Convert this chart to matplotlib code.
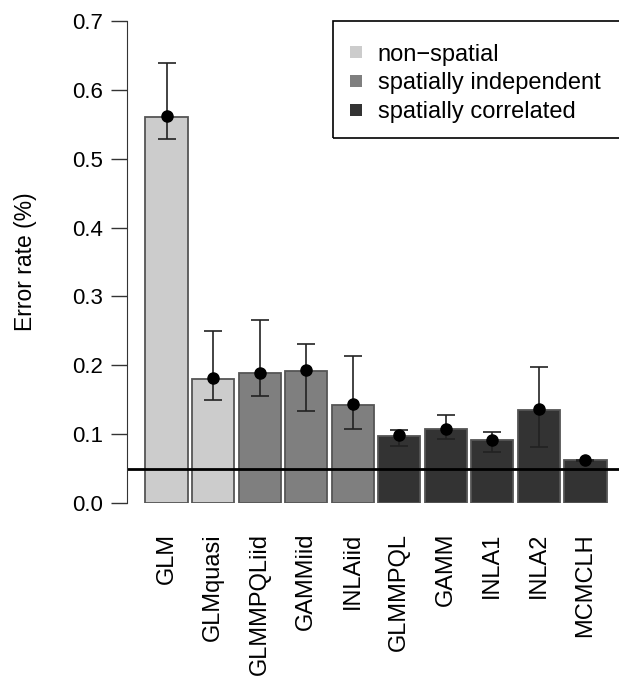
import numpy as np
import matplotlib.pyplot as plt
from matplotlib.lines import Line2D
from matplotlib.patches import Rectangle

plt.rcParams['font.family'] = ['Liberation Sans', 'DejaVu Sans']

# data
methods = ["GLM", "GLMquasi", "GLMMPQLiid", "GAMMiid", "INLAiid",
           "GLMMPQL", "GAMM", "INLA1", "INLA2", "MCMCLH"]
bar_height = [0.560, 0.180, 0.189, 0.192, 0.143, 0.098, 0.107, 0.091, 0.135, 0.062]
point_est = [0.562, 0.181, 0.189, 0.193, 0.144, 0.099, 0.108, 0.091, 0.136, 0.062]
upper = [0.639, 0.250, 0.266, 0.231, 0.213, 0.106, 0.128, 0.103, 0.197, 0.063]
lower = [0.529, 0.149, 0.155, 0.133, 0.107, 0.083, 0.093, 0.074, 0.081, 0.061]
group = [0, 0, 1, 1, 1, 2, 2, 2, 2, 2]
group_names = ["non\u2212spatial", "spatially independent", "spatially correlated"]
group_cols = ["#cccccc", "#7f7f7f", "#333333"]
nominal = 0.05

W, H = 619, 679
fig = plt.figure(figsize=(W / 100, H / 100), dpi=100)
ax = fig.add_axes([127 / W, (H - 503) / H, (625 - 127) / W, (503 - 21) / H])

# R barplot style positions: width 1, space 0.1
x = 0.6 + 1.1 * np.arange(len(methods))
cols = [group_cols[g] for g in group]
ax.bar(x, bar_height, width=1.0, color=cols, edgecolor="#555555", linewidth=1.3, zorder=1)

pt = np.array(point_est)
yerr = [pt - np.array(lower), np.array(upper) - pt]
ax.errorbar(x, pt, yerr=yerr, fmt="o", color="black", ecolor="#222222",
            elinewidth=1.2, capsize=6.3, capthick=1.2, markersize=8, zorder=3)

ax.axhline(nominal, color="black", lw=2, zorder=2)

ax.set_xlim(0.1 - 0.436, 11.0 + 0.436)
ax.set_ylim(0, 0.7)
ax.set_yticks(np.arange(0, 0.71, 0.1))
ax.set_yticklabels(["%.1f" % v for v in np.arange(0, 0.71, 0.1)])
ax.set_xticks(x)
ax.set_xticklabels(methods, rotation=90, va="top")
ax.tick_params(axis="x", length=0, pad=21.6, labelsize=17)
ax.tick_params(axis="y", length=11.5, width=1, pad=6, labelsize=16, color="#333333")

for s in ["top", "right", "bottom"]:
    ax.spines[s].set_visible(False)
ax.spines["left"].set_bounds(0, 0.7)
ax.spines["left"].set_color("#333333")

ax.set_ylabel("Error rate (%)", fontsize=16.5)
ax.yaxis.set_label_coords(-0.181, 0.5)

# legend box drawn as in R (runs past the right edge)
fig.add_artist(Rectangle((333 / W, 1 - 138 / H), (625 - 333) / W, (138 - 21) / H,
                         transform=fig.transFigure, fill=False, ec="black", lw=1.2))
handles = [Line2D([], [], marker="s", ls="", markersize=9, markerfacecolor=c,
                  markeredgewidth=0) for c in group_cols]
ax.legend(handles, group_names, loc="upper left",
          bbox_to_anchor=(333 / W, 1 - 30 / H), bbox_transform=fig.transFigure,
          fontsize=17, frameon=False, handlelength=0.79, handletextpad=0.53,
          borderpad=0.58, labelspacing=0.28, borderaxespad=0)

fig.savefig("out.png", dpi=100)
